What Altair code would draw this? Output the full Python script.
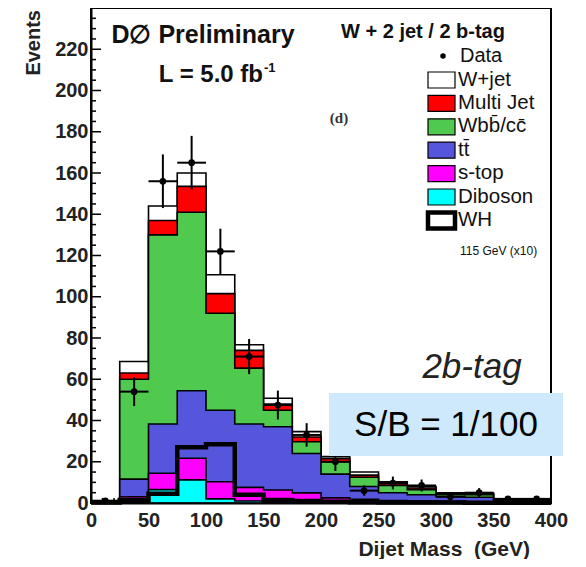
import altair as alt
import pandas as pd
import numpy as np

# ---------------- data ----------------
bin_lo = [0, 25, 50, 75, 100, 125, 150, 175, 200, 225, 250, 275, 300, 325, 350, 375]
bin_width = 25

# per-component events per bin (stack order bottom -> top)
diboson  = [0.2, 0.5, 6.5, 11.2, 2.0, 1.0, 0.6, 0.4, 0.3, 0.2, 0.2, 0.1, 0.1, 0.1, 0.1, 0.1]
stop     = [0.1, 2.5, 7.9, 10.5, 8.3, 6.6, 5.7, 4.5, 2.2, 1.6, 1.0, 0.9, 0.7, 0.5, 0.4, 0.3]
ttbar    = [0.2, 8.6, 23.9, 32.7, 34.7, 30.7, 30.7, 19.1, 11.5, 6.2, 3.8, 3.0, 2.4, 2.2, 0.7, 0.6]
wbb      = [0.3, 48.4, 91.7, 86.6, 47.0, 27.1, 8.0, 5.7, 6.0, 4.5, 3.5, 2.5, 1.1, 1.2, 0.3, 0.2]
multijet = [0.2, 3.0, 7.0, 12.5, 9.5, 8.6, 3.0, 2.3, 1.5, 1.0, 0.8, 0.8, 0.3, 0.4, 0.2, 0.2]
wjet     = [0.2, 5.6, 7.0, 6.5, 9.2, 2.7, 2.8, 2.6, 1.0, 1.5, 1.0, 0.7, 0.4, 0.4, 0.2, 0.2]
wh_x10   = [0.3, 1.5, 4.5, 27.0, 28.5, 4.0, 1.5, 1.0, 0.6, 0.4, 0.3, 0.2, 0.2, 0.1, 0.1, 0.1]

data_vals = [1, 54, 156, 165, 122, 71, 47.5, 33, 20, 6, 9.7, 8.5, 3, 5, 2, 2]
data_errs = [1, 7, 13, 13, 11, 8.5, 7, 5.7, 4.5, 2.5, 3.1, 2.9, 1.7, 2.2, 1.4, 1.4]

comp_names = ["Diboson", "s-top", "tt\u0304", "Wbb\u0304/cc\u0304", "Multi Jet", "W+jet"]
comp_colors = ["#00ffff", "#ff00ff", "#5656dc", "#4fca4f", "#ff0000", "#ffffff"]
comp_values = [diboson, stop, ttbar, wbb, multijet, wjet]

legend_names = ["W+jet", "Multi Jet", "Wbb\u0304/cc\u0304", "tt\u0304", "s-top", "Diboson", "WH"]
legend_fills = ["#ffffff", "#ff0000", "#4fca4f", "#5656dc", "#ff00ff", "#00ffff", "#ffffff"]

x_major = list(range(0, 401, 50))
x_minor = list(range(0, 401, 10))
y_major = list(range(0, 221, 20))
y_minor = list(range(0, 241, 5))

# ---------------- styling ----------------
FONT = "Liberation Sans"
W, H = 460, 495
xs = alt.Scale(domain=[0, 400], nice=False, zero=False)
ys = alt.Scale(domain=[0, 240], nice=False)

X_AX = alt.Axis(values=x_major, ticks=False, tickSize=0, domain=True, domainColor="black",
                domainWidth=2, labelFont=FONT, labelFontSize=20, labelFontWeight="bold",
                labelColor="#222222", labelPadding=7, grid=False, title=None, zindex=1,
                labelFlush=False, labelOverlap=False)
Y_AX = alt.Axis(values=y_major, ticks=False, tickSize=0, domain=True, domainColor="black",
                domainWidth=2, labelFont=FONT, labelFontSize=20, labelFontWeight="bold",
                labelColor="#222222", labelPadding=3, grid=False, title=None, zindex=1,
                labelFlush=False, labelOverlap=False)


def X(f):
    return alt.X(f, type="quantitative", scale=xs, axis=X_AX)


def Y(f):
    return alt.Y(f, type="quantitative", scale=ys, axis=Y_AX, stack=None)


layers = []

# tick marks (inside the frame)
xt = pd.DataFrame({"x": x_minor, "len": [10 if v % 50 == 0 else 5 for v in x_minor]})
for ln in (5, 10):
    sub = xt[xt["len"] == ln]
    layers.append(alt.Chart(sub).mark_rule(color="black", strokeWidth=1.5).encode(
        x=X("x"), y=alt.value(H), y2=alt.value(H - ln)))
yt = pd.DataFrame({"y": y_minor, "len": [10 if v % 20 == 0 else 5 for v in y_minor]})
for ln in (5, 10):
    sub = yt[yt["len"] == ln]
    layers.append(alt.Chart(sub).mark_rule(color="black", strokeWidth=1.5).encode(
        y=Y("y"), x=alt.value(0), x2=alt.value(ln)))

# stacked histogram, drawn from the top component down
edges = bin_lo + [bin_lo[-1] + bin_width]
cum = np.cumsum(np.array(comp_values, dtype=float), axis=0)
for k in range(len(comp_values) - 1, -1, -1):
    vals = list(cum[k]) + [cum[k][-1]]
    dfk = pd.DataFrame({"x": edges, "y": vals, "name": comp_names[k]})
    layers.append(alt.Chart(dfk).mark_area(interpolate="step-after", fill=comp_colors[k],
                                            stroke="black", strokeWidth=1.6).encode(
        x=X("x"), y=Y("y")))

# WH signal x10
dwh = pd.DataFrame({"x": edges, "y": wh_x10 + [wh_x10[-1]]})
layers.append(alt.Chart(dwh).mark_line(interpolate="step-after", color="black",
                                       strokeWidth=4.5).encode(x=X("x"), y=Y("y")))

# data points
dd = pd.DataFrame({
    "xc": [b + bin_width / 2 for b in bin_lo],
    "x0": bin_lo,
    "x1": [b + bin_width for b in bin_lo],
    "v": data_vals,
    "lo": [v - e for v, e in zip(data_vals, data_errs)],
    "hi": [v + e for v, e in zip(data_vals, data_errs)],
})
layers.append(alt.Chart(dd).mark_rule(color="black", strokeWidth=2).encode(
    x=X("x0"), x2="x1", y=Y("v")))
layers.append(alt.Chart(dd).mark_rule(color="black", strokeWidth=2).encode(
    x=X("xc"), y=Y("lo"), y2="hi"))
layers.append(alt.Chart(dd).mark_circle(color="black", size=45, opacity=1).encode(
    x=X("xc"), y=Y("v")))

one = pd.DataFrame({"a": [0]})


def txt(s, x, y, size, weight="normal", align="left", baseline="alphabetic",
        style="normal", font=FONT, color="#111111", angle=0):
    kw = dict(text=s, fontSize=size, fontWeight=weight, align=align, baseline=baseline,
              fontStyle=style, font=font, color=color)
    if angle:
        kw["angle"] = angle
    return alt.Chart(one).mark_text(**kw).encode(x=alt.value(x), y=alt.value(y))


# annotations
layers.append(txt("D\u2205 Preliminary", 112, 35, 25, weight="bold", align="center"))
layers.append(txt("L = 5.0 fb", 172, 74, 24, weight="bold", align="right"))
layers.append(txt("-1", 173, 64, 13, weight="bold"))
layers.append(txt("W + 2 jet / 2 b-tag", 332, 30, 20, weight="bold", align="center"))
layers.append(txt("(d)", 248, 115, 15, font="Liberation Serif", weight="bold",
                  align="center", color="#333333"))
layers.append(txt("2b-tag", 381, 370, 35, style="italic", align="center", color="#222222"))
layers.append(txt("Events", -57, 2, 20, weight="bold", align="right", baseline="middle",
                  angle=270, color="#222222"))
layers.append(txt("Dijet Mass\u00a0\u00a0(GeV)", 439, 548, 21, weight="bold", align="right",
                  color="#222222"))

# legend
layers.append(alt.Chart(one).mark_circle(color="black", size=30, opacity=1).encode(
    x=alt.value(352), y=alt.value(48)))
layers.append(txt("Data", 369, 48, 20, baseline="middle"))
for i, (nm, fc) in enumerate(zip(legend_names, legend_fills)):
    yc = 72 + 23.4 * i
    sw = 4.5 if nm == "WH" else 1.2
    layers.append(alt.Chart(one).mark_rect(fill=fc, stroke="black", strokeWidth=sw).encode(
        x=alt.value(337), x2=alt.value(364), y=alt.value(yc - 8), y2=alt.value(yc + 8)))
    layers.append(txt(nm, 367, yc - 0.5, 20.5, baseline="middle"))
layers.append(txt("115 GeV (x10)", 369, 243, 12, baseline="middle"))

# S/B box
layers.append(alt.Chart(one).mark_rect(fill="#cde9fb").encode(
    x=alt.value(238), x2=alt.value(472), y=alt.value(385), y2=alt.value(448)))
layers.append(txt("S/B = 1/100", 355, 417, 35, align="center", baseline="middle",
                  color="#000000"))

chart = alt.layer(*layers).properties(
    width=W, height=H, autosize="none",
    padding={"left": 83, "top": 0, "right": 27, "bottom": 56},
    background="white",
).configure_view(stroke="black", strokeWidth=2)

chart.save("out.html", embed_options={"renderer": "svg", "actions": False})
